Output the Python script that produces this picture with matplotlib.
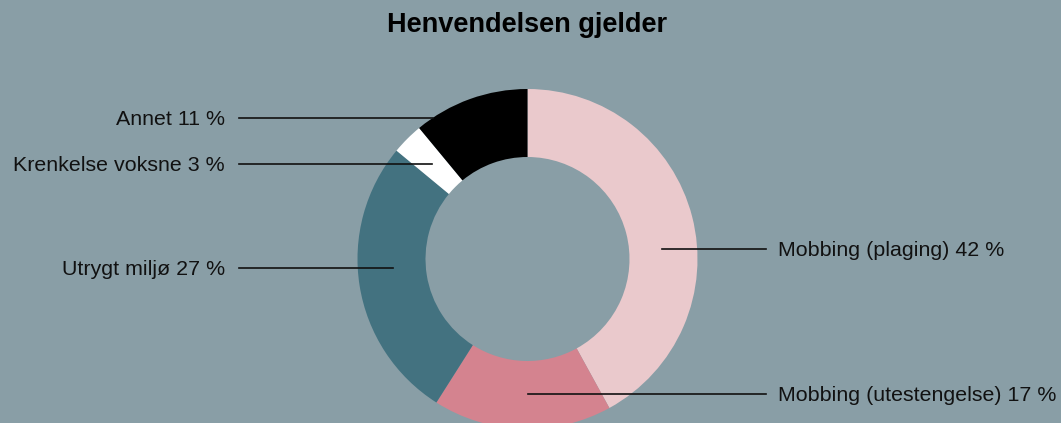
import numpy as np
import matplotlib
matplotlib.use('Agg')
import matplotlib.pyplot as plt

plt.rcParams['font.family'] = ['Liberation Sans', 'DejaVu Sans']

# Data
kategorier = ['Mobbing (plaging)', 'Mobbing (utestengelse)', 'Utrygt miljø',
              'Krenkelse voksne', 'Annet']
prosent = [42, 17, 27, 3, 11]
farger = ['#eac9cc', '#d4838f', '#437280', '#ffffff', '#000000']

# Label layout (pixel rows of the labels, side of chart)
label_y_px = [249, 394, 268, 164, 118]
label_side = ['right', 'right', 'left', 'left', 'left']

W, H = 1061, 423
bakgrunn = '#899ea6'

fig = plt.figure(figsize=(W / 100, H / 100), dpi=100, facecolor=bakgrunn)
ax = fig.add_axes([0, 0, 1, 1])
ax.set_facecolor(bakgrunn)

cx, cy = 527.5, H - 259
R, r = 170, 102

ax.pie(prosent, colors=farger, startangle=90, counterclock=False,
       radius=R, center=(cx, cy),
       wedgeprops=dict(width=R - r, linewidth=0))

ax.set_xlim(0, W)
ax.set_ylim(0, H)
ax.set_aspect('auto')
ax.axis('off')

# Leader lines and labels
r_anker = 135
for navn, p, ypx, side in zip(kategorier, prosent, label_y_px, label_side):
    y = H - ypx
    dy = abs(y - cy)
    rr = r_anker if dy <= r_anker else R
    dx = np.sqrt(max(rr ** 2 - dy ** 2, 0))
    tekst = f'{navn} {p} %'
    if side == 'right':
        x0 = cx + dx
        ax.plot([x0, 766], [y, y], color='#111111', lw=1.2)
        ax.text(778, y - 1, tekst, ha='left', va='center', fontsize=15.4,
                color='#111111')
    else:
        x0 = cx - dx
        ax.plot([239, x0], [y, y], color='#111111', lw=1.2)
        ax.text(225, y - 1, tekst, ha='right', va='center', fontsize=15.4,
                color='#111111')

fig.text(527 / W, 1 - 25 / H, 'Henvendelsen gjelder', ha='center',
         va='center', fontsize=19.5, fontweight='bold', color='#000000')

fig.savefig('out.png', dpi=100, facecolor=bakgrunn)
